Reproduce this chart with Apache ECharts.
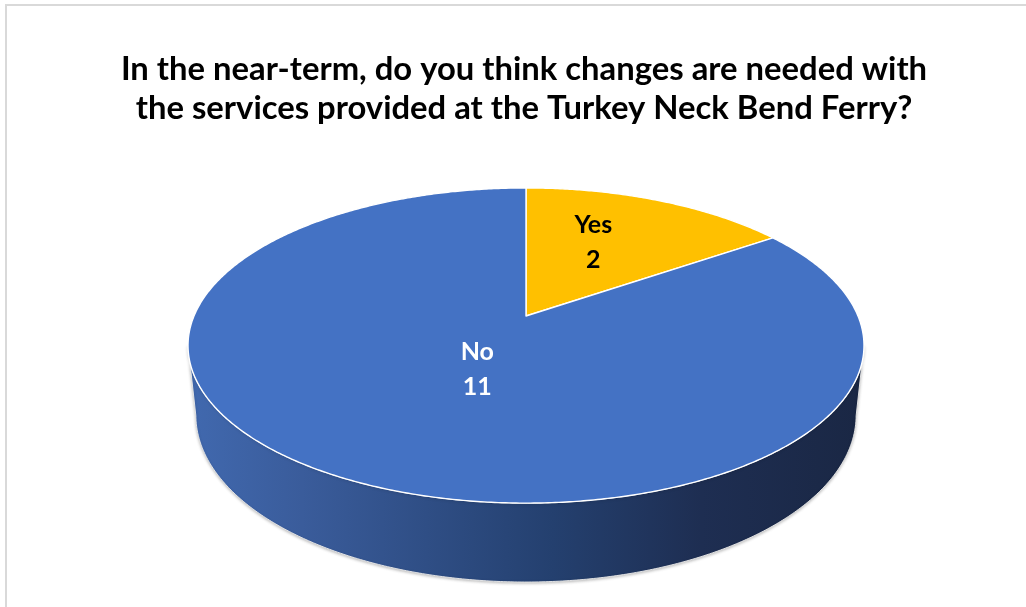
<!DOCTYPE html>
<html>
<head>
<meta charset="utf-8">
<style>
  html, body { margin: 0; padding: 0; background: #ffffff; }
  #chart { width: 1026px; height: 607px; }
</style>
<script src="https://cdn.jsdelivr.net/npm/echarts@6/dist/echarts.min.js"></script>
</head>
<body>
<div id="chart"></div>
<script>
// Survey answers
const categories = ['Yes', 'No'];
const counts = [2, 11];
const chartTitle = 'In the near-term, do you think changes are needed with\nthe services provided at the Turkey Neck Bend Ferry?';

// Styling per slice
const sliceColors = ['#FFC000', '#4472C4'];
const labelColors = ['#000000', '#ffffff'];
// label anchor: radius fraction along the mid angle, plus a vertical nudge in px
const labelPlace = [{ r: 0.47, dy: -15 }, { r: 0.30, dy: 11 }];

// Simple perspective camera for a tilted disk (units: disk radius = 1)
const view = {
  cx: 526, cy: 316,          // screen position of the disk centre (top face)
  S: 332,                    // horizontal screen radius at the centre depth
  a: 0.1873,                 // perspective strength
  tiltDeg: 27.26,            // camera elevation
  thickness: 0.238           // side height relative to radius
};
const sinT = Math.sin(view.tiltDeg * Math.PI / 180);
const cosT = Math.cos(view.tiltDeg * Math.PI / 180);
const Rw = view.a / cosT;       // disk radius in camera-distance units
const F = view.S / Rw;          // focal length in px

function project(x, y, z) {
  const X = x * Rw, Y = y * Rw, Z = z * Rw;
  const depth = 1 + Y * cosT - Z * sinT;
  const up = Y * sinT + Z * cosT;
  return [view.cx + F * X / depth, view.cy - F * up / depth];
}
// theta: clockwise from the far point of the disk, radians
function rim(theta, r, z) {
  return project(r * Math.sin(theta), r * Math.cos(theta), z);
}

const total = counts.reduce((s, v) => s + v, 0);
const starts = counts.map((v, i) => counts.slice(0, i).reduce((s, w) => s + w, 0));
const seriesData = categories.map((name, i) => ({ name: name, value: [counts[i], starts[i]] }));

// visible front part of the side wall (between the silhouette tangents)
const visFrom = Math.acos(-view.a);
const visTo = 2 * Math.PI - visFrom;

const sideFill = new echarts.graphic.LinearGradient(187, 0, 863, 0, [
  { offset: 0, color: '#4169AF' },
  { offset: 0.17, color: '#3A5C9B' },
  { offset: 0.54, color: '#24406F' },
  { offset: 0.76, color: '#1E2E52' },
  { offset: 1, color: '#1A2744' }
], true);

function renderSlice(params, api) {
  const value = api.value(0);
  const start = api.value(1);
  const t0 = start / total * 2 * Math.PI;
  const t1 = (start + value) / total * 2 * Math.PI;
  const step = Math.PI / 360;
  const children = [];

  // top face
  const top = [rim(0, 0, 0)];
  for (let t = t0; t < t1; t += step) top.push(rim(t, 1, 0));
  top.push(rim(t1, 1, 0));
  children.push({
    type: 'polygon',
    z2: 10,
    shape: { points: top },
    style: { fill: sliceColors[params.dataIndex], stroke: '#ffffff', lineWidth: 1.4, lineJoin: 'round' }
  });

  // side wall, only where it faces the viewer
  const s0 = Math.max(t0, visFrom), s1 = Math.min(t1, visTo);
  if (s1 > s0) {
    const side = [];
    for (let t = s0; t < s1; t += step) side.push(rim(t, 1, 0));
    side.push(rim(s1, 1, 0));
    side.push(rim(s1, 1, -view.thickness));
    for (let t = s1; t > s0; t -= step) side.push(rim(t, 1, -view.thickness));
    side.push(rim(s0, 1, -view.thickness));
    children.push({
      type: 'polygon',
      z2: 1,
      shape: { points: side },
      style: {
        fill: sideFill, stroke: 'rgba(235,235,235,0.9)', lineWidth: 1,
        shadowColor: 'rgba(0,0,0,0.25)', shadowBlur: 3, shadowOffsetY: 1
      }
    });
  }

  // data label
  const lp = labelPlace[params.dataIndex];
  const mid = (t0 + t1) / 2;
  const p = rim(mid, lp.r, 0);
  children.push({
    type: 'text',
    z2: 20,
    x: p[0], y: p[1] + lp.dy,
    style: {
      text: categories[params.dataIndex] + '\n' + value,
      fill: labelColors[params.dataIndex],
      font: 'bold 25px Lato',
      lineHeight: 35,
      align: 'center',
      verticalAlign: 'middle'
    }
  });
  return { type: 'group', children: children };
}

// fit the title's longest line to its box width
function fitFont(text, family, targetWidth) {
  const ctx = document.createElement('canvas').getContext('2d');
  ctx.font = 'bold 100px ' + family;
  const w = Math.max.apply(null, text.split('\n').map(l => ctx.measureText(l).width));
  return Math.round(100 * targetWidth / w * 10) / 10;
}
const titleSize = fitFont(chartTitle, 'Lato', 807);

const chart = echarts.init(document.getElementById('chart'), null, { renderer: 'canvas' });
chart.setOption({
  backgroundColor: '#ffffff',
  animation: false,
  graphic: [{
    type: 'rect',
    z: -1,
    shape: { x: 6, y: 5, width: 1100, height: 700 },
    style: { fill: 'none', stroke: '#d9d9d9', lineWidth: 2 }
  }, {
    type: 'text',
    z: 5,
    x: 524,
    y: 50,
    style: {
      text: chartTitle,
      font: 'bold ' + titleSize + 'px Lato',
      lineHeight: 39,
      fill: '#000000',
      align: 'center',
      verticalAlign: 'top'
    }
  }],
  series: [{
    type: 'custom',
    coordinateSystem: 'none',
    renderItem: renderSlice,
    data: seriesData
  }]
});
</script>
</body>
</html>
